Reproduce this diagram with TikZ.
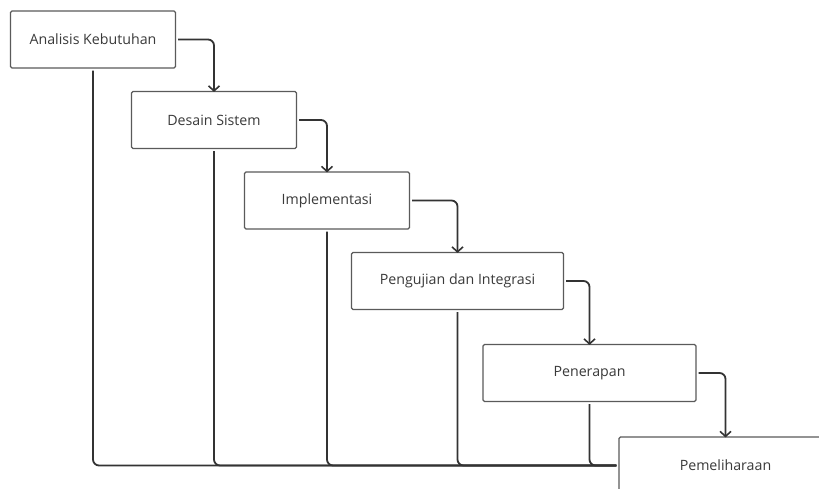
\documentclass[tikz,border=0pt]{standalone}
\usepackage{fontspec}
\setmainfont{Open Sans}
\usetikzlibrary{arrows.meta}
\definecolor{boxline}{HTML}{5A5A5A}
\definecolor{conn}{HTML}{333333}
\definecolor{txt}{HTML}{3A3A3A}
\tikzset{
  stage/.style={draw=boxline, line width=1.1pt, rounded corners=1.5pt, fill=white,
    minimum height=57pt, inner sep=0pt, text=txt, font=\fontsize{14.2}{16}\selectfont},
  flow/.style={draw=conn, line width=1.8pt, rounded corners=6pt, -{Straight Barb[length=5pt,width=11pt,line width=1.6pt]}},
  back/.style={draw=conn, line width=1.8pt, rounded corners=6pt, shorten >=2pt}
}
\begin{document}
\begin{tikzpicture}[x=1pt,y=-1pt]
\clip (0,0) rectangle (819,489);
\fill[white] (0,0) rectangle (819,489);
\node[stage, minimum width=165pt] (a1) at (93,39.5) {Analisis Kebutuhan};
\node[stage, minimum width=165pt] (a2) at (214,120) {Desain Sistem};
\node[stage, minimum width=165pt] (a3) at (327,200.5) {Implementasi};
\node[stage, minimum width=212pt] (a4) at (457.5,281) {Pengujian dan Integrasi};
\node[stage, minimum width=213pt] (a5) at (589.5,373) {Penerapan};
\node[stage, minimum width=213pt] (a6) at (725.5,465.5) {Pemeliharaan};
\draw[back] ([yshift=-2pt]a1.south) |- (a6.west);
\draw[back] ([yshift=-2pt]a2.south) |- (a6.west);
\draw[back] ([yshift=-2pt]a3.south) |- (a6.west);
\draw[back] ([yshift=-2pt]a4.south) |- (a6.west);
\draw[back] ([yshift=-2pt]a5.south) |- (a6.west);
\draw[flow] ([xshift=2pt]a1.east) -| ([yshift=-1pt]a2.north);
\draw[flow] ([xshift=2pt]a2.east) -| ([yshift=-1pt]a3.north);
\draw[flow] ([xshift=2pt]a3.east) -| ([yshift=-1pt]a4.north);
\draw[flow] ([xshift=2pt]a4.east) -| ([yshift=-1pt]a5.north);
\draw[flow] ([xshift=2pt]a5.east) -| ([yshift=-1pt]a6.north);
\end{tikzpicture}
\end{document}
